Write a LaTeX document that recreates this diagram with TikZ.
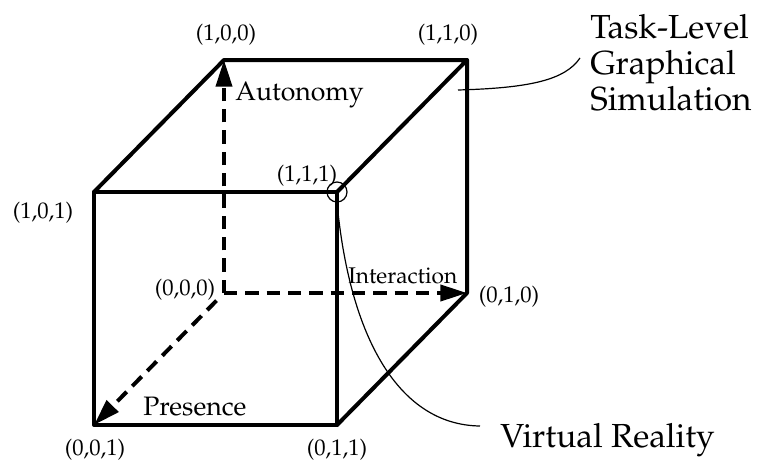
\documentclass[tikz,border=0pt]{standalone}
\usepackage[T1]{fontenc}
\usepackage{mathpazo}
\usetikzlibrary{arrows.meta}

\begin{document}
\begin{tikzpicture}[x=0.75pt, y=-0.75pt,
    edge/.style={line width=3pt, line cap=round, line join=round},
    axis/.style={line width=3pt, dash pattern=on 10pt off 6pt,
                 -{Triangle[length=20pt, width=12pt]}},
    pointer/.style={line width=0.9pt},
    coordlabel/.style={font=\fontsize{17}{20}\selectfont, inner sep=0pt},
    axislabel/.style={font=\fontsize{20}{24}\selectfont, inner sep=0pt, anchor=base west},
    caption/.style={font=\fontsize{25}{27}\selectfont, inner sep=0pt, align=left}
  ]
    \useasboundingbox (0,0) rectangle (757,464);

    % cube corners
    \coordinate (c100) at (224,60);
    \coordinate (c110) at (467,60);
    \coordinate (c101) at (94,192);
    \coordinate (c111) at (337,192);
    \coordinate (c000) at (224,293);
    \coordinate (c010) at (467,293);
    \coordinate (c001) at (94,425);
    \coordinate (c011) at (337,425);

    % visible edges
    \draw[edge] (c101) rectangle (c011);
    \draw[edge] (c101) -- (c100) -- (c110) -- (c111);
    \draw[edge] (c110) -- (c010) -- (c011);

    % hidden axes
    \draw[axis] (c000) -- (c100);
    \draw[axis] (c000) -- (c010);
    \draw[axis, shorten <=8pt] (c000) -- (c001);

    \node[axislabel] (auto) at (235,100) {Autonomy};
    \node[axislabel, font=\fontsize{17}{20}\selectfont] (inter) at (348,283) {Interaction};
    \node[axislabel] (pres) at (143,415) {Presence};

    % corner labels
    \node[coordlabel] (l100) at (226,35) {(1,0,0)};
    \node[coordlabel] (l110) at (448,35) {(1,1,0)};
    \node[coordlabel] (l101) at (43,213) {(1,0,1)};
    \node[coordlabel] (l111) at (307,176) {(1,1,1)};
    \node[coordlabel] (l000) at (185,290) {(0,0,0)};
    \node[coordlabel] (l010) at (509,297) {(0,1,0)};
    \node[coordlabel] (l001) at (95,450) {(0,0,1)};
    \node[coordlabel] (l011) at (337,450) {(0,1,1)};

    % captions
    \node[caption, anchor=north west] (tlgs) at (590,14)
      {Task-Level\\Graphical\\Simulation};
    \node[caption, anchor=base west] (vr) at (500,447) {Virtual Reality};

    \node[draw, circle, line width=0.9pt, minimum size=15pt, inner sep=0pt] (vrpt) at (c111) {};
    \coordinate (tlgsend) at (580,58);
    \coordinate (tlgsstart) at (458,90);
    \coordinate (vrend) at (480,426);

    \draw[pointer] (tlgsstart) .. controls (530,88) and (565,80) .. (tlgsend);
    \draw[pointer] (vrpt.south) .. controls (350,340) and (400,425) .. (vrend);
  \end{tikzpicture}
\end{document}
